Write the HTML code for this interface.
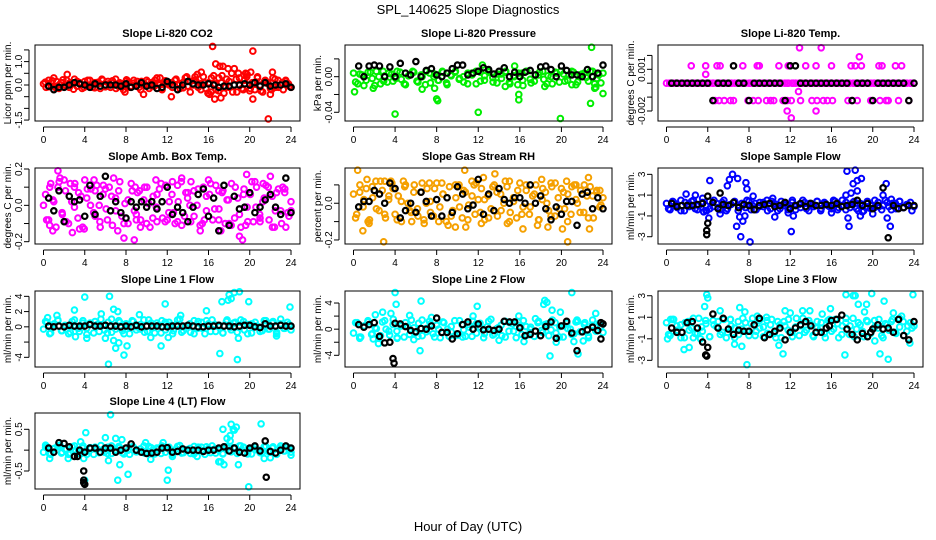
<!DOCTYPE html>
<html><head><meta charset="utf-8"><style>
html,body{margin:0;padding:0;background:#fff}
svg{display:block;font-family:"Liberation Sans",Arial,sans-serif}
</style></head><body>
<svg id="chart" width="936" height="540" viewBox="0 0 936 540" xmlns="http://www.w3.org/2000/svg">
<text x="468" y="14" text-anchor="middle" font-size="13">SPL_140625  Slope Diagnostics</text>
<text x="468" y="531" text-anchor="middle" font-size="13">Hour of Day (UTC)</text>
</svg>
<script>
const xTicks=[0,4,8,12,16,20,24];
// Panel 1 CO2
const co2Band=[0.05,-0.1,0.2,0.1,-0.05,0.15,-0.15,0.1,0.0,0.2,-0.1,0.05,0.25,-0.05,0.1,-0.15,0.15,0.0,0.2,-0.1,0.1,0.05,-0.15,0.2,0.0,0.15,-0.1,0.1,0.25,-0.05,0.05,-0.2,0.15,0.1,-0.05,0.2,0.0,-0.1,0.15,0.05,0.2,-0.15,0.1,-0.05,0.3,0.0,-0.2,0.15,0.05,0.1,-0.1,0.2,0.0,-0.15,0.1,0.3,-0.05,0.15,0.0,0.2,-0.1,0.05,0.35,-0.15,0.1,-0.3,0.4,-0.2,0.3,0.1,-0.35,0.25,-0.1,0.5,0.0,-0.3,0.3,-0.15,0.2,0.45,-0.25,0.1,-0.2,0.35,0.0,-0.3,0.2,0.1,-0.15,0.3,-0.1,0.2,0.0,-0.2,0.15,0.05,-0.1];
const co2Band2=[0.12,-0.08,0.18,-0.12,0.02,0.22,-0.05,0.1,-0.18,0.15,0.05,-0.1,0.2,0.0,-0.12,0.12,0.25,-0.08,0.05,0.18,-0.15,0.1,0.0,0.22,-0.1,0.08,0.15,-0.2,0.05,0.12,-0.05,0.2,0.1,-0.15,0.18,0.0,-0.1,0.25,0.05,-0.12,0.35,-0.3,0.2,0.45,-0.2,0.1,-0.35,0.3,0.05,-0.25,0.4,-0.1,0.15,-0.3,0.25,0.0,-0.2,0.35,-0.15,0.1,0.3,-0.25,0.15,0.05,-0.2,0.25,-0.1,0.1,0.2,-0.05];
const co2OutX=[16.4,16.7,17.1,17.4,17.9,18.5,18.9,19.6,20.1,20.3,22.2,15.3,21.8,20.3,16.6,17.2,12.4,7.9,9.7,2.3,22,16.1,14.7,11.3,1.0];
const co2OutY=[1.65,0.9,0.8,0.8,0.7,0.7,0.5,0.5,0.55,1.45,0.55,0.55,-1.45,-0.6,-0.6,-0.55,-0.5,-0.3,-0.4,0.45,-0.4,-0.4,0.35,0.3,0.3];
const co2Black=[-0.05,-0.2,-0.1,-0.1,0.0,0.1,0.05,0.0,-0.1,0.05,-0.05,0.0,0.0,0.0,-0.05,0.05,-0.1,-0.05,0.1,-0.05,0.0,-0.15,-0.1,0.15,0.0,-0.2,0.0,0.15,0.05,0.0,0.0,0.05,0.0,-0.1,-0.05,-0.05,0.0,0.0,0.05,0.0,0.1,-0.05,0.1,-0.05,0.0,0.0,0.05,-0.1];
// Panel 2 pressure
const presBand=[0.004,-0.008,0.002,-0.004,0.005,-0.01,0.0,0.006,-0.006,0.003,-0.002,0.005,-0.008,0.001,0.006,-0.005,0.002,-0.009,0.004,0.0,-0.004,0.006,-0.007,0.002,0.005,-0.003,0.0,-0.008,0.004,0.006,-0.005,0.001,0.005,-0.006,0.003,-0.002,0.006,-0.008,0.0,0.004,-0.004,0.006,-0.007,0.002,0.005,-0.003,0.001,-0.008,0.004,0.006,-0.005,0.002,0.005,-0.006,0.003,-0.001,0.006,-0.008,0.002,0.004];
const presBand2=[-0.006,0.003,-0.01,0.005,-0.002,0.006,-0.008,0.001,0.004,-0.005,0.006,-0.003,-0.009,0.002,0.005,-0.006,0.0,0.006,-0.007,0.003,-0.004,0.005,-0.009,0.001,0.006,-0.002,-0.006,0.004,0.002,-0.008,0.005,-0.004,0.006,-0.001,-0.007,0.003,0.005,-0.006,0.001,-0.009,0.004,0.006,-0.003,-0.005,0.002,0.006,-0.008,0.0,0.005,-0.006,0.003,-0.004,0.006,-0.009,0.002,0.004,-0.005,0.006,-0.002,-0.007];
const presOutX=[0.1,4,1.9,8,8.1,12,15.9,15.9,19.9,22.8,22.9,23.2,24,7.8,14.6,16.3,18.4,23.3,12.4,6.6,15.5,2.9,21];
const presOutY=[-0.017,-0.042,-0.013,-0.025,-0.027,-0.04,-0.02,-0.026,-0.047,-0.03,0.033,-0.013,-0.019,-0.013,-0.011,-0.01,-0.011,-0.012,0.013,-0.014,0.012,-0.005,-0.009];
const presBlack=[0.012,0.0,0.012,0.013,0.012,0.0,0.011,0.0,0.015,0.004,0.002,0.017,0.0,0.007,0.009,0.002,0.0,0.004,0.009,0.013,0.013,0.002,0.004,0.006,0.010,0.008,0.003,0.006,0.010,0.0,0.005,0.0,0.005,0.007,0.002,0.011,0.012,0.008,0.0,0.012,0.007,0.002,0.002,0.0,0.008,0.0,0.004,0.013];
// Panel 3 Li-820 temp
const tempBand=[0,0,0,0,0,0,0,0,0,0,0,0,0,0,0,0,0,0,0,0,0,0,0,0,0,0,0,0,0,0,0,0,0,0,0,0,0,0,0,0,0,0,0,0,0,0,0,0,0,0,0,0,0,0,0,0,0,0,0,0,0,0,0,0,0,0,0,0,0,0];
const tempBand2=[0,0,0,0,0,0,0,0,0,0,0,0,0,0,0,0,0,0,0,0,0,0,0,0,0,0,0,0,0,0,0,0,0,0,0,0,0,0,0,0];
const tempOutX=[2.4,3.8,4.9,5.2,7.4,8.8,9.0,10.9,11.8,13.5,14.5,16.0,17.9,18.3,18.9,20.6,20.9,22.2,22.8,4.7,5.1,5.6,6.2,6.5,7.9,8.4,8.9,9.7,10.1,10.4,11.3,11.7,12.1,13.0,14.1,14.6,15.2,15.6,16.1,17.6,18.0,18.5,19.8,20.7,21.3,21.5,22.5,23.5,3.8,12.8,11.7,14.5,12.1,12.9,15.0,18.7];
const tempOutY=[0.00125,0.00125,0.00125,0.00125,0.00125,0.00125,0.00125,0.00125,0.00125,0.00125,0.00125,0.00125,0.00125,0.00125,0.00125,0.00125,0.00125,0.00125,0.00125,-0.00125,-0.00125,-0.00125,-0.00125,-0.00125,-0.00125,-0.00125,-0.00125,-0.00125,-0.00125,-0.00125,-0.00125,-0.00125,-0.00125,-0.00125,-0.00125,-0.00125,-0.00125,-0.00125,-0.00125,-0.00125,-0.00125,-0.00125,-0.00125,-0.00125,-0.00125,-0.00125,-0.00125,-0.00125,0.00064,-0.0006,-0.002,-0.002,-0.0025,0.00255,0.00255,0.0019];
const tempBlack=[0,0,0,0,0,0,0,0,-0.00125,0,0,0,0.00125,0,0,-0.00125,0,0,0,0,0,0,-0.00125,0.00125,0.00125,0,0,0,0,0,0,0,0,0,0,-0.00125,0,0,0,-0.00125,0,0,0,0,0,0,-0.00125,0];
// Panel 4 amb box temp
const ambBand=[0.0,-0.08,0.1,0.03,-0.12,0.13,-0.05,0.08,-0.1,0.02,0.12,-0.07,0.05,-0.13,0.09,0.0,-0.04,0.11,-0.09,0.06,-0.02,0.1,-0.11,0.04,0.08,-0.06,0.01,-0.1,0.12,-0.03,0.07,-0.08,0.03,0.1,-0.12,0.05,-0.01,0.09,-0.07,0.11,-0.04,0.06,-0.1,0.02,0.13,-0.06,0.04,-0.09,0.08,0.0,-0.11,0.1,-0.03,0.06,-0.08,0.11,-0.02,0.07,-0.1,0.03,0.12,-0.07,0.04,-0.12,0.09,-0.01,0.06,-0.09,0.1,-0.05,0.02,0.11,-0.08,0.05,-0.03,0.09,-0.1,0.07,-0.04,0.02];
const ambBand2=[0.06,-0.11,0.02,0.1,-0.04,-0.09,0.12,-0.01,0.07,-0.12,0.04,0.09,-0.06,0.0,0.11,-0.08,0.05,-0.03,0.13,-0.1,0.03,0.08,-0.05,-0.12,0.1,0.01,-0.07,0.06,0.12,-0.09,0.02,-0.04,0.11,-0.11,0.07,0.0,-0.06,0.09,-0.1,0.05,0.12,-0.02,-0.08,0.08,0.03,-0.11,0.1,-0.05,0.06,-0.09,0.13,-0.01,-0.07,0.04,0.1,-0.12,0.07,-0.03,0.09,-0.06];
const ambOutX=[1.4,1.6,2.0,0.5,0.9,0.7,2.8,3.5,4.0,4.9,5.5,6.8,7.2,7.8,8.8,8.9,9.3,10.9,12.5,13.4,14.3,15.6,15.2,16.0,17.2,19.0,19.3,19.6,19.7,20.5,21.3,22.0,22.4,23.2,23.5,10,11,13,18,3,5,6,9,12,14,17,21,24];
const ambOutY=[0.19,0.15,0.14,-0.08,-0.14,0.12,-0.15,-0.13,0.14,0.14,-0.12,0.15,-0.14,-0.18,-0.19,0.1,0.08,0.14,0.13,0.15,0.13,-0.08,-0.14,0.14,-0.14,-0.17,-0.19,-0.11,0.17,0.13,0.12,0.16,-0.12,0.1,-0.12,-0.1,-0.09,-0.09,-0.1,0.1,0.08,0.09,-0.08,-0.08,0.07,0.08,-0.09,-0.03];
const ambBlack=[0.04,-0.03,0.08,-0.09,0.05,0.02,0.03,-0.06,0.11,-0.05,0.05,0.16,-0.03,0.02,-0.04,-0.07,0.02,-0.01,0.02,-0.01,0.02,-0.02,0.02,0.1,-0.05,-0.01,-0.04,-0.09,-0.01,0.06,0.09,-0.06,0.04,-0.14,0.11,-0.11,0.05,-0.02,-0.01,0.07,-0.04,-0.01,0.03,0.06,-0.01,-0.05,0.15,-0.04];
// Panel 5 RH
const rhBand=[0.05,-0.06,0.1,-0.02,0.08,-0.09,0.03,0.12,-0.04,0.07,-0.08,0.02,0.11,-0.06,0.04,-0.1,0.09,0.0,-0.05,0.1,-0.03,0.06,-0.09,0.08,0.01,-0.07,0.11,-0.02,0.05,-0.1,0.09,-0.04,0.03,0.1,-0.08,0.06,-0.01,0.12,-0.06,0.02,0.08,-0.09,0.04,-0.03,0.1,-0.07,0.05,0.0,0.09,-0.05,0.03,-0.08,0.11,-0.02,0.07,-0.06,0.04,0.1,-0.09,0.02,0.06,-0.04,0.09,-0.07,0.03,0.08,-0.03,0.05,-0.06,0.1,0.0,0.07,-0.05,0.04,0.09,-0.08,0.06,-0.02,0.03];
const rhBand2=[-0.08,0.06,0.02,-0.1,0.09,-0.03,0.12,-0.06,0.04,0.08,-0.09,0.01,0.1,-0.04,0.06,-0.07,0.11,0.0,-0.05,0.08,-0.1,0.05,0.03,-0.07,0.1,-0.02,0.07,-0.09,0.04,0.11,-0.05,0.02,-0.08,0.09,0.06,-0.04,0.12,-0.1,0.01,0.07,-0.06,0.1,-0.02,0.05,-0.09,0.08,0.0,-0.07,0.11,-0.03,0.06,-0.1,0.09,0.02,-0.05,0.1,-0.08,0.04,0.07,-0.01];
const rhOutX=[0.4,0.9,1.5,2.9,3.0,3.6,5.6,6.8,8.5,9.1,9.8,10.7,10.8,12.3,12.5,13.6,14.8,16.3,17.7,18.1,18.7,20.1,20.6,20.5,22.7,22.6,23.7,1.3,4.8,7.3,11.6,15.0,19.0,21.4];
const rhOutY=[0.18,-0.15,-0.11,-0.21,0.12,0.12,-0.1,-0.11,0.11,-0.12,-0.13,0.18,-0.13,-0.11,0.14,0.16,-0.11,-0.14,-0.12,0.13,-0.13,-0.14,-0.21,0.12,-0.14,0.14,0.07,0.13,0.12,0.11,0.1,0.12,0.11,0.1];
const rhBlack=[-0.02,0.01,0.01,0.07,0.05,0.0,0.11,0.08,-0.08,-0.04,0.0,-0.05,0.06,0.01,-0.07,0.02,-0.07,0.03,-0.05,0.09,0.05,-0.03,-0.01,0.13,-0.06,0.05,-0.04,0.08,0.02,0.0,0.03,0.03,0.0,0.1,0.0,0.04,-0.03,-0.09,-0.02,-0.06,0.01,0.01,-0.12,0.05,0.06,-0.03,0.03,-0.03];
// Panel 6 sample flow
const sfBand=[0.2,-0.4,0.3,-0.2,0.5,-0.5,0.1,0.4,-0.3,0.0,0.3,-0.5,0.4,-0.1,0.2,-0.4,0.5,-0.3,0.1,0.3,-0.5,0.2,-0.2,0.4,0.0,-0.4,0.3,-0.1,0.5,-0.3,0.2,-0.5,0.4,0.0,-0.2,0.3,-0.4,0.1,0.5,-0.3,0.2,-0.1,0.4,-0.5,0.3,0.0,-0.3,0.4,-0.2,0.5,-0.4,0.1,0.3,-0.3,0.2,-0.5,0.4,0.0,-0.2,0.3,-0.4,0.5,-0.1,0.2,-0.3,0.4,-0.2,0.1,0.3,-0.1];
const sfBand2=[-0.3,0.4,0.1,-0.5,0.3,-0.1,0.5,-0.4,0.2,0.0,-0.3,0.5,-0.2,0.3,-0.5,0.1,0.4,-0.2,0.0,0.5,-0.4,0.2,-0.1,0.3,-0.5,0.4,0.1,-0.3,0.2,-0.4,0.5,0.0,-0.2,0.3,-0.5,0.1,0.4,-0.3,0.2,-0.1,0.5,-0.4,0.0,0.3,-0.2,0.4,-0.5,0.1,0.2,-0.3,0.5,-0.1,0.0,0.3,-0.4,0.2,0.4,-0.2,0.1,-0.5];
const sfOutX=[1.9,2.8,3.5,3.6,4.1,4.2,5.2,5.9,6.1,6.4,6.8,6.9,7.1,7.2,7.4,7.6,7.7,7.8,8.1,8.4,10.3,10.5,11.8,12.1,12.3,17.4,17.5,17.7,17.6,17.9,18.1,18.3,18.5,18.5,18.9,18.8,19.0,20.0,21.0,21.3,21.4,21.7,21.8,3.9,16.0];
const sfOutY=[1.1,1.0,0.7,-0.6,-1.2,2.4,-0.8,1.9,2.5,3.0,-2.0,2.6,-1.1,-3.0,-1.5,-1.0,2.2,1.6,-3.5,0.9,0.7,-1.1,-0.7,-2.5,-1.0,1.0,3.3,-2.0,-1.2,1.2,2.1,3.4,2.4,1.4,2.6,-1.0,-0.6,-0.8,1.0,2.1,-1.2,-2.0,0.6,-0.5,-0.7];
const sfBlack=[0.2,-0.1,0.0,0.0,0.0,0.1,0.2,0.9,0.3,-0.3,0.1,0.0,0.3,-0.2,0.1,0.0,-0.4,0.0,0.1,0.2,-0.1,0.0,0.3,-0.3,0.0,0.2,-0.1,0.2,0.0,0.0,0.1,0.0,0.2,-0.1,0.0,0.1,0.5,0.0,0.2,-0.3,0.0,1.7,-3.1,0.0,-0.3,-0.2,0.0,0.0];
const sfBlackOutX=[3.9,3.9,4.0,5.2];
const sfBlackOutY=[-2.4,-2.8,-1.7,1.2];
// Panel 7 line 1
const l1Band=[-0.3,0.6,-0.8,0.4,0.9,-0.5,0.2,-0.9,0.7,0.0,-0.6,0.8,-0.2,0.5,-0.8,0.3,1.0,-0.4,0.6,-0.7,0.1,0.8,-0.5,0.4,-0.9,0.7,0.0,-0.3,0.9,-0.6,0.5,-0.8,0.2,0.8,-0.4,0.6,-0.9,0.3,1.0,-0.5,0.1,-0.7,0.8,-0.2,0.6,-0.9,0.4,0.9,-0.6,0.2,-0.8,0.7,-0.1,0.5,-0.7,0.9,-0.4,0.3,-0.8,0.6,0.0,-0.5,0.8,-0.3,0.7,-0.9,0.4,-0.2,0.6,-0.4];
const l1Band2=[0.7,-0.9,0.3,0.8,-0.5,0.1,-0.7,0.9,-0.2,0.5,-1.0,0.4,0.7,-0.6,0.2,-0.8,1.0,-0.3,0.6,-0.9,0.0,0.8,-0.4,0.3,-0.7,0.9,-0.1,0.5,-0.8,0.6,0.2,-0.5,0.9,-0.7,0.1,0.4,-0.9,0.7,-0.2,0.8,-0.6,0.3,0.0,-0.8,0.9,-0.4,0.6,-0.1,0.7,-0.9,0.4,0.1,-0.6,0.8,-0.3,0.5,-0.7,1.0,-0.2,0.3];
const l1OutX=[0.4,1.3,3.0,4.0,6.4,6.8,7.2,5.6,6.8,7.0,7.3,7.8,8.1,6.3,4.2,6.0,11.8,11.4,12.1,15.8,17.1,17.3,17.9,18.0,18.2,18.5,18.8,19.0,18.9,19.9,23.9,3.1,9.3,13.3,22.6,10.4];
const l1OutY=[1.2,1.5,2.2,3.9,4.0,2.3,2.0,1.7,-1.8,-2.8,-2.1,-3.7,-2.5,-4.9,-1.5,-1.5,3.0,-2.5,-1.4,2.1,-3.5,3.3,3.5,4.2,3.7,4.5,-4.3,4.6,-1.5,3.3,2.6,-1.3,1.6,1.5,-1.2,-1.4];
const l1Black=[0.1,0.0,0.1,0.0,0.2,0.1,0.1,0.1,0.3,0.1,0.1,0.2,0.1,0.1,0.0,0.1,0.0,0.2,0.0,0.1,0.1,0.1,0.0,0.0,0.1,0.1,0.1,0.2,0.1,0.0,0.0,0.1,0.1,0.2,0.1,0.1,0.0,0.1,0.2,0.2,0.0,-0.1,0.4,0.1,0.1,0.2,0.1,0.1];
// Panel 8 line 2
const l2Band=[-0.6,1.0,-1.2,0.5,1.3,-0.8,0.2,-1.4,1.1,0.0,-0.9,1.5,-0.3,0.7,-1.2,0.4,1.4,-0.6,0.9,-1.0,0.1,1.2,-0.7,0.6,-1.3,1.0,0.0,-0.4,1.3,-0.9,0.7,-1.1,0.3,1.2,-0.6,0.9,-1.3,0.4,1.5,-0.7,0.2,-1.0,1.2,-0.3,0.8,-1.3,0.5,1.3,-0.9,0.3,-1.1,1.0,-0.2,0.7,-1.0,1.4,-0.6,0.4,-1.2,0.9,0.0,-0.7,1.2,-0.4,1.0,-1.3,0.6,-0.3,0.9,-0.5];
const l2Band2=[1.0,-1.2,0.4,1.1,-0.7,0.1,-1.0,1.3,-0.3,0.7,-1.4,0.5,1.0,-0.8,0.2,-1.1,1.4,-0.4,0.8,-1.2,0.0,1.1,-0.5,0.4,-1.0,1.3,-0.1,0.7,-1.1,0.8,0.3,-0.7,1.2,-0.9,0.1,0.6,-1.2,1.0,-0.3,1.1,-0.8,0.4,0.0,-1.1,1.2,-0.5,0.8,-0.1,1.0,-1.2,0.5,0.1,-0.8,1.1,-0.4,0.7,-1.0,1.4,-0.3,0.4];
const l2OutX=[0.6,1.9,2.1,2.4,2.8,3.6,4.0,4.1,4.2,5.4,5.8,6.5,6.4,7.5,11.9,11.5,14.0,15.9,16.4,17.5,18.3,18.4,18.6,18.9,19.1,19.5,19.9,21.0,21.2,21.5,21.6,22.1,23.3,10.5,9.2];
const l2OutY=[-1.4,-1.5,2.2,-2.2,2.6,2.4,5.6,3.8,-1.3,2.1,-1.6,4.3,-3.3,1.8,3.5,2.0,-1.7,2.0,-1.9,1.6,3.8,4.4,4.1,-4.1,2.9,-2.0,2.6,5.6,-1.9,1.4,-3.8,-1.8,2.4,-1.2,-1.1];
const l2Black=[0.7,0.3,0.7,1.0,-1.1,-2.1,-2.0,0.9,0.8,0.4,-0.2,-0.4,0.1,0.0,0.5,1.7,-0.5,-0.5,-1.5,-0.7,0.7,1.1,0.0,0.8,-0.1,0.0,-0.2,0.0,1.2,1.1,1.1,0.2,-1.0,-0.8,-0.3,-1.0,0.4,1.1,-1.4,0.5,1.2,-0.6,-3.3,-0.4,-0.1,0.3,-0.2,0.8];
const l2BlackOutX=[3.8,3.9,23.8,23.8];
const l2BlackOutY=[-4.5,-5.2,-1.5,1.0];
// Panel 9 line 3
const l3Band=[0.5,-0.7,0.8,-0.2,0.3,-0.9,0.6,0.0,-0.5,0.9,-0.3,0.4,-0.8,0.7,0.1,-0.6,0.8,-0.4,0.2,-0.9,0.6,-0.1,0.5,-0.7,0.9,-0.3,0.0,-0.8,0.7,0.3,-0.5,0.6,-0.9,0.2,0.8,-0.4,0.1,-0.7,0.9,-0.2,0.4,-0.8,0.6,0.0,-0.5,0.7,-0.3,0.8,-0.9,0.2,0.5,-0.6,0.9,-0.1,0.3,-0.8,0.6,-0.4,0.7,0.0,-0.7,0.4,-0.2,0.8,-0.5,0.1,0.6,-0.3,0.5,0.2];
const l3Band2=[-0.6,0.8,0.2,-0.9,0.5,-0.2,0.9,-0.5,0.1,0.7,-0.8,0.3,0.6,-0.4,-0.9,0.8,0.0,-0.6,0.9,-0.3,0.4,-0.7,0.7,0.1,-0.5,0.8,-0.9,0.3,0.6,-0.2,-0.8,0.9,0.2,-0.4,0.7,-0.7,0.0,0.5,-0.9,0.8,-0.1,0.4,-0.6,0.9,0.2,-0.8,0.5,-0.3,0.7,-0.5,0.1,0.8,-0.9,0.3,0.6,-0.4,0.9,-0.7,0.2,0.0];
const l3OutX=[0.1,0.4,1.7,2.2,2.6,3.3,3.7,3.9,4.0,5.2,6.2,6.6,7.1,7.3,7.6,7.8,8.8,9.7,10.9,11.3,11.5,12.0,13.2,13.9,15.1,15.9,17.3,17.4,18.1,18.3,18.6,19.2,19.4,19.9,20.7,21.1,21.5,22.0,22.8,23.9,23.6,20.2];
const l3OutY=[-1.0,0.8,-2.0,-1.8,-0.9,-1.0,2.0,3.1,2.8,1.6,0.8,-1.5,1.9,-1.7,1.5,-3.4,1.1,1.0,-1.6,-2.4,1.6,1.4,1.6,1.6,1.3,1.8,-2.5,3.1,3.0,3.0,2.2,1.5,2.2,3.2,-2.4,2.5,-2.9,1.4,1.1,3.1,-1.4,-1.2];
const l3Black=[0.0,-0.4,-0.4,0.5,0.6,0.0,-1.3,-1.8,1.3,0.0,0.9,-0.1,-0.6,-0.2,-0.3,-0.3,0.3,0.9,-0.9,-0.6,-0.3,0.0,-1.1,-0.4,0.0,0.3,0.6,0.2,-0.4,-0.4,0.0,0.7,0.8,1.2,-0.1,-0.6,-1.1,-0.5,-0.8,-0.1,0.3,-0.1,0.0,-0.4,0.8,-0.7,-1.1,0.6];
const l3BlackOutX=[3.9,3.8,15.8,19.8];
const l3BlackOutY=[-2.6,-2.5,0.2,-0.4];
// Panel 10 line 4
const l4Band=[-0.05,0.08,-0.1,0.04,0.1,-0.07,0.02,-0.1,0.08,0.0,-0.08,0.1,-0.03,0.06,-0.1,0.03,0.11,-0.05,0.07,-0.08,0.01,0.09,-0.06,0.05,-0.1,0.08,0.0,-0.04,0.1,-0.07,0.06,-0.09,0.02,0.1,-0.05,0.07,-0.1,0.03,0.11,-0.06,0.01,-0.08,0.09,-0.02,0.07,-0.1,0.04,0.1,-0.07,0.02,-0.09,0.08,-0.01,0.06,-0.08,0.1,-0.05,0.03,-0.09,0.07,0.0,-0.06,0.09,-0.03,0.08,-0.1,0.05,-0.02,0.07,-0.05];
const l4Band2=[0.07,-0.09,0.03,0.08,-0.05,0.01,-0.07,0.1,-0.02,0.05,-0.1,0.04,0.07,-0.06,0.02,-0.08,0.1,-0.03,0.06,-0.09,0.0,0.08,-0.04,0.03,-0.07,0.09,-0.01,0.05,-0.08,0.06,0.02,-0.05,0.09,-0.07,0.01,0.04,-0.09,0.07,-0.02,0.08,-0.06,0.03,0.0,-0.08,0.09,-0.04,0.06,-0.01,0.07,-0.09,0.04,0.01,-0.06,0.08,-0.03,0.05,-0.07,0.1,-0.02,0.03];
const l4OutX=[0.2,0.6,1.6,2.4,3.6,3.9,4.1,4.0,6.0,6.3,6.5,7.0,7.2,7.4,7.6,8.2,10.4,11.6,12.0,12.1,12.5,17.0,17.2,17.4,17.5,17.8,18.1,18.2,18.4,18.5,18.1,18.7,18.9,19.0,19.9,21.1,21.4,22.0,24.0,14.9,9.9];
const l4OutY=[0.12,-0.2,0.12,-0.2,0.2,-0.2,0.42,-0.72,0.3,-0.25,0.85,0.28,-0.72,-0.35,0.25,-0.58,-0.22,0.18,-0.72,-0.48,-0.15,-0.28,-0.28,0.5,-0.35,0.28,0.35,0.62,0.5,0.48,0.22,0.55,-0.35,0.1,-0.88,0.63,-0.2,-0.18,-0.12,-0.15,0.18];
const l4Black=[0.05,-0.05,0.18,0.16,0.08,-0.15,0.0,-0.05,0.05,0.05,-0.05,0.05,0.05,-0.05,0.0,0.05,0.15,0.0,-0.05,-0.08,-0.07,-0.05,0.05,0.06,-0.05,-0.03,0.03,0.0,0.0,0.0,-0.03,0.0,0.0,0.05,0.08,-0.02,0.05,-0.05,-0.07,0.05,0.1,-0.02,0.22,-0.03,-0.07,0.0,0.1,0.05];
const l4BlackOutX=[3.9,3.9,3.9,4.0,21.6,3.3];
const l4BlackOutY=[-0.5,-0.72,-0.78,-0.82,-0.65,-0.15];

const NS="http://www.w3.org/2000/svg";
const svg=document.getElementById('chart');
function mk(tag,attrs,parent){const e=document.createElementNS(NS,tag);for(const k in attrs)e.setAttribute(k,attrs[k]);(parent||svg).appendChild(e);return e;}
const cols=[{l:35,w:265},{l:345,w:267},{l:658,w:265}];
const rows=[45,168,291,413];
const H=76;
const panels=[
 {key:'co2',title:'Slope Li-820 CO2',ylab:'Licor ppm per min.',c:0,r:0,ylo:-1.54,yhi:1.71,col:'#ff0000',ticks:[-1.5,-1,-0.5,0,0.5,1,1.5],labs:['-1.5','','','0.0','','1.0',''],band:co2Band,band2:co2Band2,ox:co2OutX,oy:co2OutY,black:co2Black},
 {key:'pressure',title:'Slope Li-820 Pressure',ylab:'kPa per min.',c:1,r:0,ylo:-0.0498,yhi:0.0356,col:'#00ee00',ticks:[-0.04,-0.02,0,0.02],labs:['-0.04','','0.00',''],band:presBand,band2:presBand2,ox:presOutX,oy:presOutY,black:presBlack},
 {key:'li820-temp',title:'Slope Li-820 Temp.',ylab:'degrees C per min.',c:2,r:0,ylo:-0.00272,yhi:0.00275,col:'#ff00ff',ticks:[-0.002,-0.001,0,0.001,0.002],labs:['-0.002','','','0.001',''],band:tempBand,band2:tempBand2,ox:tempOutX,oy:tempOutY,black:tempBlack},
 {key:'amb-box-temp',title:'Slope Amb. Box Temp.',ylab:'degrees C per min.',c:0,r:1,ylo:-0.2127,yhi:0.2055,col:'#ff00ff',ticks:[-0.2,-0.1,0,0.1,0.2],labs:['-0.2','','0.0','','0.2'],band:ambBand,band2:ambBand2,ox:ambOutX,oy:ambOutY,black:ambBlack},
 {key:'gas-stream-rh',title:'Slope Gas Stream RH',ylab:'percent per min.',c:1,r:1,ylo:-0.222,yhi:0.192,col:'#f5a000',ticks:[-0.2,-0.1,0,0.1],labs:['-0.2','','0.0',''],band:rhBand,band2:rhBand2,ox:rhOutX,oy:rhOutY,black:rhBlack},
 {key:'sample-flow',title:'Slope Sample Flow',ylab:'ml/min per min.',c:2,r:1,ylo:-3.7,yhi:3.61,col:'#0000ff',ticks:[-3,-1,1,3],labs:['-3','-1','1','3'],band:sfBand,band2:sfBand2,ox:sfOutX,oy:sfOutY,black:sfBlack,bx:sfBlackOutX,by:sfBlackOutY},
 {key:'line1-flow',title:'Slope Line 1 Flow',ylab:'ml/min per min.',c:0,r:2,ylo:-5.27,yhi:4.7,col:'#00ffff',ticks:[-4,-2,0,2,4],labs:['-4','','0','2','4'],band:l1Band,band2:l1Band2,ox:l1OutX,oy:l1OutY,black:l1Black},
 {key:'line2-flow',title:'Slope Line 2 Flow',ylab:'ml/min per min.',c:1,r:2,ylo:-5.79,yhi:5.84,col:'#00ffff',ticks:[-4,-2,0,2,4],labs:['-4','','0','','4'],band:l2Band,band2:l2Band2,ox:l2OutX,oy:l2OutY,black:l2Black,bx:l2BlackOutX,by:l2BlackOutY},
 {key:'line3-flow',title:'Slope Line 3 Flow',ylab:'ml/min per min.',c:2,r:2,ylo:-3.62,yhi:3.44,col:'#00ffff',ticks:[-3,-1,1,3],labs:['-3','-1','1','3'],band:l3Band,band2:l3Band2,ox:l3OutX,oy:l3OutY,black:l3Black,bx:l3BlackOutX,by:l3BlackOutY},
 {key:'line4-flow',title:'Slope Line 4 (LT) Flow',ylab:'ml/min per min.',c:0,r:3,ylo:-0.932,yhi:0.891,col:'#00ffff',ticks:[-0.5,0,0.5],labs:['-0.5','','0.5'],band:l4Band,band2:l4Band2,ox:l4OutX,oy:l4OutY,black:l4Black,bx:l4BlackOutX,by:l4BlackOutY}
];
panels.forEach(p=>{
  const L=cols[p.c].l,W=cols[p.c].w,T=rows[p.r],B=T+H;
  const xs=v=>L+8.5+v*(W-17.5)/24;
  const ys=v=>B-(v-p.ylo)/(p.yhi-p.ylo)*H;
  const g=mk('g',{});
  
  
  const t=mk('text',{x:L+W/2,y:T-8,'text-anchor':'middle','font-size':'11','font-weight':'bold'},g);
  t.textContent=p.title;
  
  
  const yl=mk('text',{transform:`translate(${L-24},${T+H/2}) rotate(-90)`,'text-anchor':'middle','font-size':'10'},g);
  yl.textContent=p.ylab;
  
  
  const clip=mk('g',{},g);
  
  
  const n=p.band.length;
  p.band.forEach((v,i)=>{
    const c=mk('circle',{cx:xs(i*24/(n-1)),cy:ys(v),r:2.8,fill:'none',stroke:p.col,'stroke-width':2},clip);
    
    
  });
  const n2=p.band2.length;
  p.band2.forEach((v,i)=>{
    const c=mk('circle',{cx:xs((i+0.5)*24/n2),cy:ys(v),r:2.8,fill:'none',stroke:p.col,'stroke-width':2},clip);
    
    
  });
  p.ox.forEach((x,i)=>{
    const c=mk('circle',{cx:xs(x),cy:ys(p.oy[i]),r:2.8,fill:'none',stroke:p.col,'stroke-width':2},clip);
    
    
  });
  const nb=p.black.length;
  p.black.forEach((v,i)=>{
    const c=mk('circle',{cx:xs((i+1)*24/nb),cy:ys(v),r:2.7,fill:'none',stroke:'#000','stroke-width':2.2},clip);
    
    
  });
  if(p.bx)p.bx.forEach((x,i)=>{
    const c=mk('circle',{cx:xs(x),cy:ys(p.by[i]),r:2.7,fill:'none',stroke:'#000','stroke-width':2.2},clip);
    
    
  });
  const box=mk('rect',{x:L,y:T,width:W,height:H,fill:'none',stroke:'#000','stroke-width':1},g);
  
  
  const ya=mk('line',{x1:L-6,x2:L-6,y1:ys(p.ticks[0]),y2:ys(p.ticks[p.ticks.length-1]),stroke:'#000'},g);
  
  
  p.ticks.forEach((tv,i)=>{
    mk('line',{x1:L-11,x2:L-6,y1:ys(tv),y2:ys(tv),stroke:'#000'},g);
    if(p.labs[i]){
      const tl=mk('text',{transform:`translate(${L-13},${ys(tv)}) rotate(-90)`,'text-anchor':'middle','font-size':'10'},g);
      tl.textContent=p.labs[i];
      
      
    }
  });
  const xa=mk('line',{x1:xs(0),x2:xs(24),y1:B+6,y2:B+6,stroke:'#000'},g);
  
  
  xTicks.forEach(tv=>{
    mk('line',{x1:xs(tv),x2:xs(tv),y1:B+6,y2:B+11,stroke:'#000'},g);
    const tl=mk('text',{x:xs(tv),y:B+22,'text-anchor':'middle','font-size':'10'},g);
    tl.textContent=tv;
    
    
  });
});
</script>
</body></html>
